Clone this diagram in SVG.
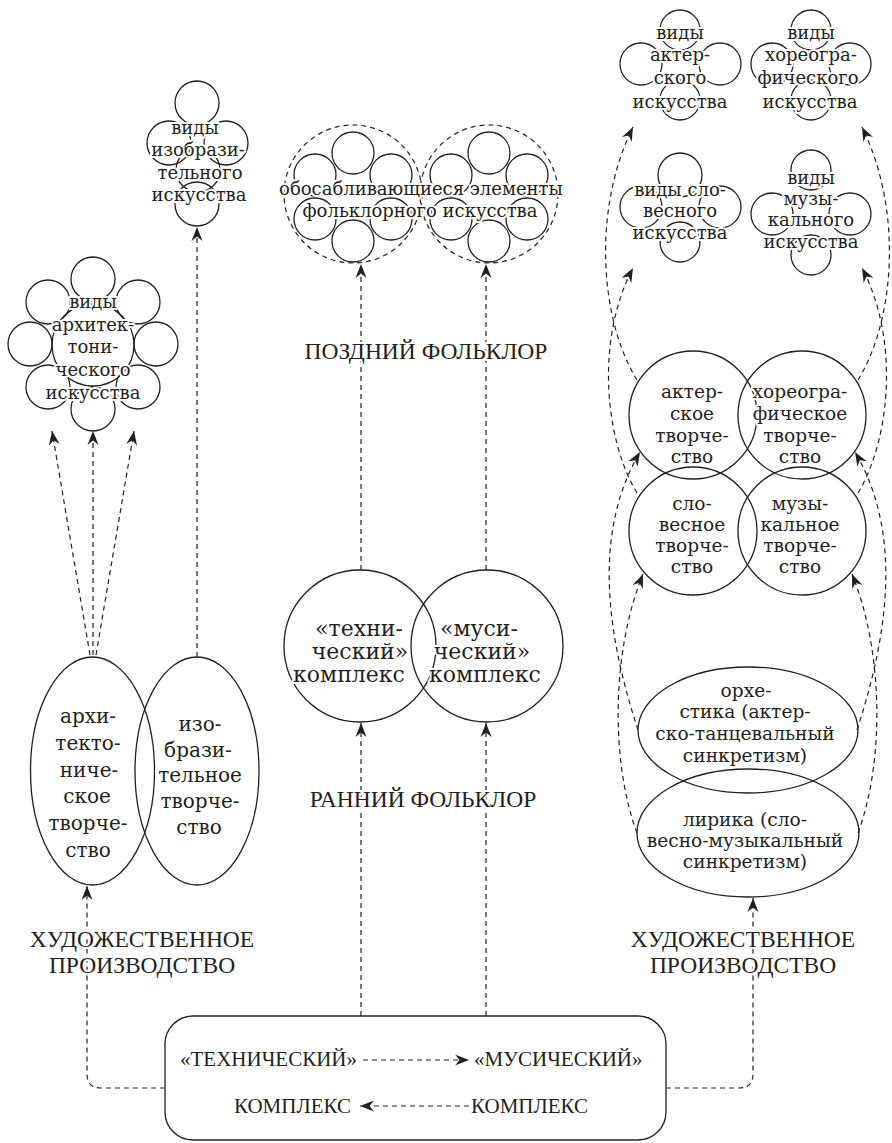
<svg xmlns="http://www.w3.org/2000/svg" width="892" height="1143" viewBox="0 0 892 1143">
<style>
.s{fill:none;stroke:#231f20;stroke-width:1.3}
.d{fill:none;stroke:#231f20;stroke-width:1.2;stroke-dasharray:5 4}
.t{font-family:"DejaVu Serif",serif;font-size:18px;fill:#231f20;text-anchor:middle;stroke:#fff;stroke-width:4;stroke-linejoin:round;paint-order:stroke}
.r{font-size:18.6px}
.e{font-size:20px}
.m{font-size:22px}
.u{font-family:"Liberation Serif",serif;font-size:23.5px;fill:#231f20;text-anchor:middle;stroke:#fff;stroke-width:4;stroke-linejoin:round;paint-order:stroke}
.b{font-size:21px}
</style>
<defs>
<marker id="ah" viewBox="-14 -6 15 12" refX="0" refY="0" markerWidth="15" markerHeight="12" markerUnits="userSpaceOnUse" orient="auto">
<path d="M0,0 L-14,-5.5 L-9.5,0 L-14,5.5 Z" fill="#231f20"/>
</marker>
</defs>
<rect width="892" height="1143" fill="#fff"/>

<g id="connectors" class="d" marker-end="url(#ah)">
<path d="M90,655 L52,431"/>
<path d="M93,655 L93,431"/>
<path d="M96,655 L134,431"/>
<path d="M197,657 V227"/>
<path d="M361,1016 V723"/>
<path d="M486,1016 V723"/>
<path d="M361,570 V264"/>
<path d="M486,570 V264"/>
<path d="M165,1088 H101 Q87,1088 87,1074 V886"/>
<path d="M666,1088 H739 Q753,1088 753,1074 V898"/>
<path d="M363,1060 H469"/>
<path d="M469,1106 H360"/>
<path d="M637,380 C600,320 592,210 633,127"/>
<path d="M637,493 C605,440 595,340 633,268"/>
<path d="M638,730 C612,650 588,540 640,452"/>
<path d="M637,833 C610,760 612,650 643,574"/>
<path d="M858,380 C895,320 903,210 862,127"/>
<path d="M858,493 C890,440 900,340 862,268"/>
<path d="M857,730 C883,650 907,540 855,452"/>
<path d="M858,833 C885,760 883,650 852,574"/>
</g>

<g id="flower-arch">
<g class="s">
<circle cx="93" cy="345" r="41"/>
<circle cx="93" cy="279" r="22"/>
<circle cx="48" cy="302" r="22"/>
<circle cx="138" cy="302" r="22"/>
<circle cx="30" cy="344" r="22"/>
<circle cx="156" cy="344" r="22"/>
<circle cx="48" cy="387" r="22"/>
<circle cx="138" cy="387" r="22"/>
<circle cx="93" cy="409" r="22"/>
</g>
<text class="t" x="93" y="308">виды</text>
<text class="t" x="93" y="331">архитек-</text>
<text class="t" x="93" y="353">тони-</text>
<text class="t" x="93" y="376">ческого</text>
<text class="t" x="93" y="399">искусства</text>
</g>

<g id="flower-izo">
<g class="s">
<circle cx="197" cy="103" r="22"/>
<circle cx="169" cy="143" r="22"/>
<circle cx="226" cy="143" r="22"/>
<circle cx="198" cy="170" r="22"/>
<circle cx="197" cy="204" r="22"/>
</g>
<text class="t" x="195" y="134">виды</text>
<text class="t" x="198" y="156">изобрази-</text>
<text class="t" x="200" y="179">тельного</text>
<text class="t" x="199" y="201">искусства</text>
</g>

<g id="folk-elements">
<circle class="d" cx="353" cy="194" r="69"/>
<circle class="d" cx="489" cy="194" r="69"/>
<g class="s">
<circle cx="353" cy="153" r="21"/>
<circle cx="315" cy="175" r="21"/>
<circle cx="391" cy="175" r="21"/>
<circle cx="315" cy="219" r="21"/>
<circle cx="391" cy="219" r="21"/>
<circle cx="353" cy="241" r="21"/>
<circle cx="489" cy="153" r="21"/>
<circle cx="451" cy="175" r="21"/>
<circle cx="527" cy="175" r="21"/>
<circle cx="451" cy="219" r="21"/>
<circle cx="527" cy="219" r="21"/>
<circle cx="489" cy="241" r="21"/>
</g>
<text class="t" x="421" y="195">обосабливающиеся элементы</text>
<text class="t" x="420" y="217">фольклорного искусства</text>
</g>

<g id="flower-acting">
<g class="s">
<circle cx="680" cy="30" r="20"/>
<circle cx="641" cy="64" r="21"/>
<circle cx="720" cy="64" r="21"/>
<circle cx="680" cy="100" r="20"/>
</g>
<text class="t" x="680" y="39">виды</text>
<text class="t" x="680" y="61">актер-</text>
<text class="t" x="680" y="84">ского</text>
<text class="t" x="680" y="108">искусства</text>
</g>

<g id="flower-choreo">
<g class="s">
<circle cx="811" cy="30" r="20"/>
<circle cx="772" cy="64" r="21"/>
<circle cx="850" cy="64" r="21"/>
<circle cx="811" cy="100" r="20"/>
</g>
<text class="t" x="811" y="39">виды</text>
<text class="t" x="811" y="61">хореогра-</text>
<text class="t" x="808" y="84">фического</text>
<text class="t" x="810" y="108">искусства</text>
</g>

<g id="flower-verbal">
<g class="s">
<circle cx="680" cy="175" r="22"/>
<circle cx="641" cy="207" r="21"/>
<circle cx="720" cy="207" r="21"/>
<circle cx="680" cy="242" r="20"/>
</g>
<text class="t" x="680" y="196">виды сло-</text>
<text class="t" x="680" y="217">весного</text>
<text class="t" x="680" y="239">искусства</text>
</g>

<g id="flower-music">
<g class="s">
<circle cx="811" cy="170" r="20"/>
<circle cx="772" cy="214" r="21"/>
<circle cx="850" cy="214" r="21"/>
<circle cx="811" cy="255" r="20"/>
</g>
<text class="t" x="811" y="184">виды</text>
<text class="t" x="811" y="205">музы-</text>
<text class="t" x="811" y="226">кального</text>
<text class="t" x="811" y="248">искусства</text>
</g>

<g id="labels">
<text class="u" x="426" y="359">ПОЗДНИЙ ФОЛЬКЛОР</text>
<text class="u" x="423" y="807">РАННИЙ ФОЛЬКЛОР</text>
<text class="u" x="142" y="947">ХУДОЖЕСТВЕННОЕ</text>
<text class="u" x="142" y="973">ПРОИЗВОДСТВО</text>
<text class="u" x="743" y="947">ХУДОЖЕСТВЕННОЕ</text>
<text class="u" x="743" y="973">ПРОИЗВОДСТВО</text>
</g>

<g id="acting">
<circle class="s" cx="693" cy="415" r="64"/>
<text class="t r" x="692" y="398">актер-</text>
<text class="t r" x="692" y="420">ское</text>
<text class="t r" x="692" y="442">творче-</text>
<text class="t r" x="692" y="463">ство</text>
</g>
<g id="choreo">
<circle class="s" cx="802" cy="415" r="64"/>
<text class="t r" x="800" y="398">хореогра-</text>
<text class="t r" x="800" y="420">фическое</text>
<text class="t r" x="800" y="442">творче-</text>
<text class="t r" x="800" y="463">ство</text>
</g>
<g id="verbal">
<circle class="s" cx="693" cy="531" r="64"/>
<text class="t r" x="692" y="510">сло-</text>
<text class="t r" x="692" y="531">весное</text>
<text class="t r" x="692" y="552">творче-</text>
<text class="t r" x="692" y="573">ство</text>
</g>
<g id="music">
<circle class="s" cx="802" cy="531" r="64"/>
<text class="t r" x="800" y="510">музы-</text>
<text class="t r" x="800" y="531">кальное</text>
<text class="t r" x="800" y="552">творче-</text>
<text class="t r" x="800" y="573">ство</text>
</g>

<g id="orchestics">
<ellipse class="s" cx="748" cy="730" rx="110" ry="63"/>
<text class="t r" x="746" y="697">орхе-</text>
<text class="t r" x="745" y="718">стика (актер-</text>
<text class="t r" x="745" y="740">ско-танцевальный</text>
<text class="t r" x="745" y="762">синкретизм)</text>
</g>
<g id="lyrics">
<ellipse class="s" cx="748" cy="833" rx="111" ry="64"/>
<text class="t r" x="745" y="826">лирика (сло-</text>
<text class="t r" x="745" y="847">весно-музыкальный</text>
<text class="t r" x="745" y="868">синкретизм)</text>
</g>

<g id="tech-complex">
<circle class="s" cx="360" cy="646" r="76"/>
<text class="t m" x="359" y="636">«техни-</text>
<text class="t m" x="360" y="659">ческий»</text>
<text class="t m" x="349" y="682">комплекс</text>
</g>
<g id="mus-complex">
<circle class="s" cx="487" cy="646" r="76"/>
<text class="t m" x="479" y="636">«муси-</text>
<text class="t m" x="482" y="659">ческий»</text>
<text class="t m" x="485" y="682">комплекс</text>
</g>

<g id="arch">
<ellipse class="s" cx="92.5" cy="771" rx="62" ry="114"/>
<text class="t e" x="88" y="723">архи-</text>
<text class="t e" x="88" y="750">текто-</text>
<text class="t e" x="89" y="777">ниче-</text>
<text class="t e" x="87" y="803">ское</text>
<text class="t e" x="88" y="830">творче-</text>
<text class="t e" x="88" y="857">ство</text>
</g>
<g id="izo">
<ellipse class="s" cx="197" cy="771" rx="62" ry="114"/>
<text class="t e" x="200" y="731">изо-</text>
<text class="t e" x="198" y="757">брази-</text>
<text class="t e" x="200" y="782">тельное</text>
<text class="t e" x="200" y="808">творче-</text>
<text class="t e" x="199" y="834">ство</text>
</g>

<g id="base">
<rect class="s" x="165" y="1016" width="501" height="124" rx="28"/>
<text class="u b" x="357" y="1066" style="text-anchor:end">«ТЕХНИЧЕСКИЙ»</text>
<text class="u b" x="474" y="1066" style="text-anchor:start">«МУСИЧЕСКИЙ»</text>
<text class="u b" x="351" y="1113" style="text-anchor:end">КОМПЛЕКС</text>
<text class="u b" x="471" y="1113" style="text-anchor:start">КОМПЛЕКС</text>
</g>
</svg>
